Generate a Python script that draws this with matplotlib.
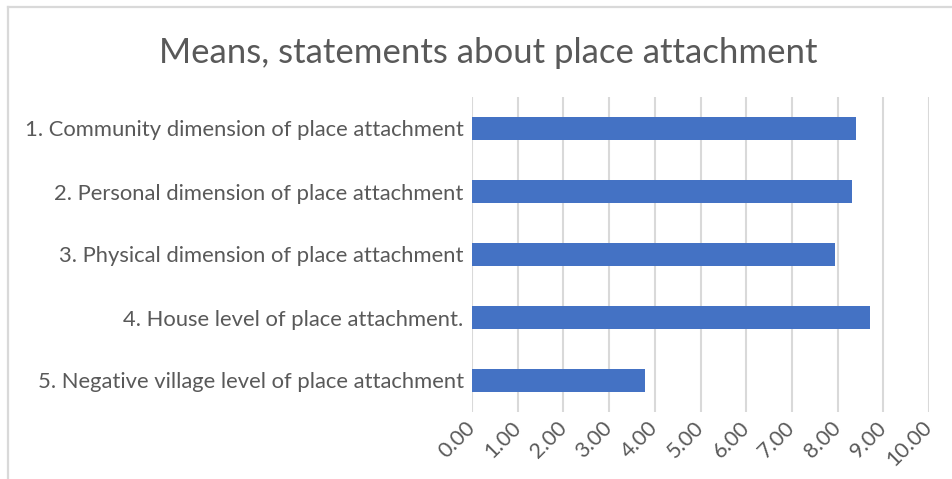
import matplotlib
matplotlib.use("Agg")
import matplotlib.pyplot as plt
from matplotlib.lines import Line2D

categories = [
    "1. Community dimension of place attachment",
    "2. Personal dimension of place attachment",
    "3. Physical dimension of place attachment",
    "4. House level of place attachment.",
    "5. Negative village level of place attachment",
]
means = [8.41, 8.32, 7.95, 8.71, 3.78]
x_ticks = [0, 1, 2, 3, 4, 5, 6, 7, 8, 9, 10]
x_tick_labels = [f"{v:.2f}" for v in x_ticks]
title = "Means, statements about place attachment"

plt.rcParams["font.family"] = ["Lato", "DejaVu Sans"]
text_color = "#595959"
grid_color = "#D9D9D9"
bar_color = "#4472C4"

W, H = 953, 479
fig = plt.figure(figsize=(W / 100, H / 100), dpi=100)
ax = fig.add_axes([472 / W, 1 - 412 / H, (929 - 472) / W, (412 - 97) / H])

ypos = list(range(len(categories)))
ax.barh(ypos, means, height=0.36, color=bar_color, zorder=3)
ax.set_ylim(len(categories) - 0.5, -0.5)
ax.set_xlim(0, 10)

ax.set_xticks(x_ticks)
ax.set_xticklabels(x_tick_labels, rotation=45, ha="right", va="center",
                   rotation_mode="anchor", fontsize=15.5, color=text_color)
ax.set_yticks(ypos)
ax.set_yticklabels(categories, fontsize=15.8, color=text_color)
ax.tick_params(axis="both", length=0)
ax.tick_params(axis="x", pad=9)
ax.tick_params(axis="y", pad=6)

ax.grid(axis="x", color=grid_color, linewidth=1.5, zorder=0)
for s in ax.spines.values():
    s.set_visible(False)

fig.text(488 / W, 1 - 53 / H, title, ha="center", va="center",
         fontsize=25, color=text_color)

# chart frame (left and top edges)
fig.add_artist(Line2D([8 / W, 8 / W], [0, 1 - 7 / H], transform=fig.transFigure,
                      color=grid_color, linewidth=1.6))
fig.add_artist(Line2D([8 / W, 1], [1 - 7 / H, 1 - 7 / H], transform=fig.transFigure,
                      color=grid_color, linewidth=1.6))

fig.savefig("out.png", dpi=100)
